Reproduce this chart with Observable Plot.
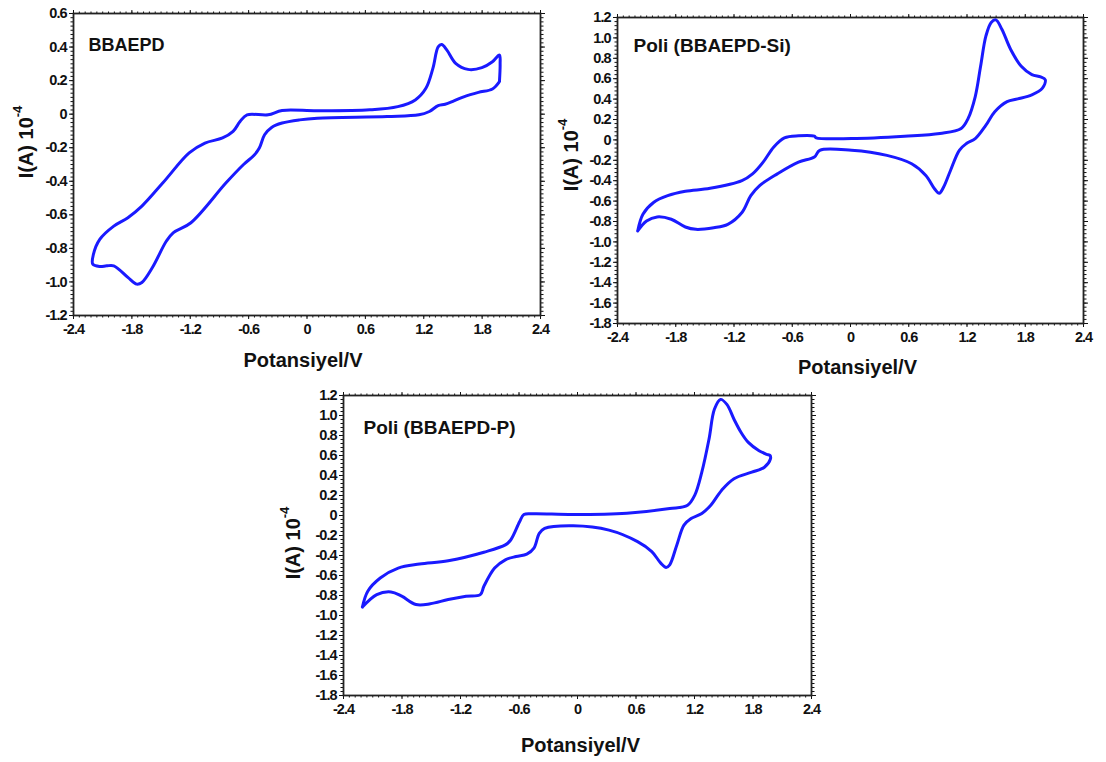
<!DOCTYPE html>
<html>
<head>
<meta charset="utf-8">
<script src="https://cdn.jsdelivr.net/npm/d3@7"></script>
<script src="https://cdn.jsdelivr.net/npm/@observablehq/plot@0.6"></script>
<style>
  body { margin: 0; background: #fff; }
  #root { position: relative; width: 1106px; height: 762px; background: #fff; overflow: hidden; }
  #root svg { position: absolute; overflow: visible; }
</style>
</head>
<body>
<div id="root"></div>
<script>
// ---- Data ----
const titles = ["BBAEPD", "Poli (BBAEPD-Si)", "Poli (BBAEPD-P)"];
const xLabel = "Potansiyel/V";
const xTicks = [-2.4, -1.8, -1.2, -0.6, 0, 0.6, 1.2, 1.8, 2.4];
const yTicks1 = [0.6, 0.4, 0.2, 0, -0.2, -0.4, -0.6, -0.8, -1.0, -1.2];
const yTicks23 = [1.2, 1.0, 0.8, 0.6, 0.4, 0.2, 0, -0.2, -0.4, -0.6, -0.8, -1.0, -1.2, -1.4, -1.6, -1.8];

// Panel 1: BBAEPD (closed CV loop, points in scan order)
const p1V = [1.978, 1.906, 1.762, 1.618, 1.51, 1.42, 1.348, 1.258, 1.15, 0.825, 0.105, -0.076, -0.256, -0.364, -0.436, -0.49, -0.544, -0.652, -0.832, -1.193, -1.373, -1.445, -1.589, -1.697, -1.751, -1.841, -1.986, -2.058, -2.13, -2.202, -2.195, -2.13, -1.986, -1.841, -1.697, -1.481, -1.211, -1.049, -0.868, -0.76, -0.688, -0.616, -0.4, -0.256, 0.105, 0.645, 0.933, 1.113, 1.222, 1.294, 1.348, 1.384, 1.438, 1.528, 1.654, 1.798, 1.906, 1.978, 1.985, 1.978];
const p1I = [0.194, 0.150, 0.130, 0.105, 0.079, 0.059, 0.051, 0.016, -0.004, -0.014, -0.024, -0.034, -0.053, -0.079, -0.123, -0.202, -0.245, -0.300, -0.409, -0.647, -0.706, -0.756, -0.914, -1.003, -1.013, -0.973, -0.904, -0.904, -0.908, -0.894, -0.835, -0.746, -0.667, -0.617, -0.548, -0.409, -0.231, -0.172, -0.142, -0.103, -0.044, -0.004, -0.004, 0.022, 0.020, 0.026, 0.045, 0.085, 0.154, 0.273, 0.401, 0.415, 0.382, 0.303, 0.267, 0.277, 0.312, 0.352, 0.300, 0.194];

// Panel 2: Poli (BBAEPD-Si)
const p2V = [-2.192, -2.138, -2.029, -1.883, -1.701, -1.446, -1.118, -1.009, -0.9, -0.79, -0.681, -0.536, -0.372, -0.353, 0.011, 0.557, 0.921, 1.14, 1.212, 1.285, 1.34, 1.395, 1.449, 1.497, 1.559, 1.65, 1.759, 1.868, 1.959, 2.006, 1.977, 1.868, 1.722, 1.613, 1.486, 1.395, 1.285, 1.194, 1.121, 1.03, 0.958, 0.914, 0.867, 0.776, 0.63, 0.375, 0.011, -0.317, -0.372, -0.536, -0.754, -0.936, -1.027, -1.118, -1.264, -1.409, -1.592, -1.701, -1.846, -1.992, -2.101, -2.192];
const p2I = [-0.893, -0.729, -0.613, -0.547, -0.504, -0.475, -0.399, -0.333, -0.218, -0.069, 0.020, 0.040, 0.036, 0.020, 0.013, 0.036, 0.063, 0.112, 0.211, 0.425, 0.722, 1.019, 1.151, 1.177, 1.085, 0.887, 0.722, 0.640, 0.617, 0.590, 0.508, 0.442, 0.402, 0.376, 0.277, 0.145, 0.013, -0.036, -0.102, -0.300, -0.465, -0.524, -0.481, -0.349, -0.234, -0.152, -0.102, -0.102, -0.168, -0.218, -0.333, -0.448, -0.547, -0.712, -0.828, -0.861, -0.877, -0.854, -0.778, -0.755, -0.795, -0.893];

// Panel 3: Poli (BBAEPD-P)
const p3V = [-2.206, -2.151, -2.023, -1.839, -1.62, -1.326, -0.96, -0.74, -0.685, -0.594, -0.55, -0.447, -0.044, 0.506, 0.946, 1.129, 1.202, 1.275, 1.349, 1.404, 1.466, 1.532, 1.605, 1.678, 1.752, 1.862, 1.940, 1.975, 1.979, 1.917, 1.788, 1.605, 1.477, 1.367, 1.275, 1.165, 1.092, 1.019, 0.946, 0.909, 0.854, 0.762, 0.616, 0.323, -0.044, -0.337, -0.392, -0.447, -0.52, -0.63, -0.74, -0.85, -0.96, -0.997, -1.143, -1.326, -1.51, -1.656, -1.803, -1.913, -2.059, -2.206];
const p3I = [-0.916, -0.757, -0.625, -0.526, -0.486, -0.453, -0.367, -0.294, -0.245, -0.063, 0.010, 0.017, 0.010, 0.023, 0.069, 0.103, 0.202, 0.433, 0.764, 1.062, 1.161, 1.111, 0.963, 0.830, 0.731, 0.648, 0.612, 0.600, 0.566, 0.483, 0.433, 0.367, 0.251, 0.103, 0.020, -0.030, -0.096, -0.294, -0.493, -0.519, -0.476, -0.361, -0.261, -0.146, -0.103, -0.129, -0.179, -0.327, -0.387, -0.410, -0.443, -0.526, -0.708, -0.791, -0.807, -0.840, -0.883, -0.890, -0.807, -0.764, -0.791, -0.916];

// ---- Drawing ----
const fmt = d => Math.abs(d) < 1e-9 ? "0" : d.toFixed(1);
const FONT = "'Liberation Sans', Arial, sans-serif";
const BLUE = "#1a1aff";
const INK = "#111";

function panel(cfg) {
  const data = cfg.v.map((v, i) => ({v, i: cfg.i[i]}));
  const yMin = d3.min(cfg.yTicks), yMax = d3.max(cfg.yTicks);
  const xMinor = d3.range(-2.4, 2.4001, 0.06);
  const yMinor = d3.range(yMin, yMax + 1e-6, cfg.yMinorStep);
  const hide = () => "";
  const svg = Plot.plot({
    width: cfg.width, height: cfg.height,
    marginLeft: cfg.ml, marginTop: cfg.mt, marginRight: cfg.mr, marginBottom: cfg.mb,
    x: {domain: [-2.4, 2.4]},
    y: {domain: [yMin, yMax]},
    style: {fontFamily: FONT, fontSize: "14px", fontWeight: "bold", color: INK, background: "transparent"},
    marks: [
      // minor ticks on all sides
      Plot.axisX(xMinor, {anchor: "bottom", tickSize: 2.5, tickFormat: hide, label: null, stroke: INK}),
      Plot.axisX(xMinor, {anchor: "top", tickSize: 2.5, tickFormat: hide, label: null, stroke: INK}),
      Plot.axisY(yMinor, {anchor: "left", tickSize: 2.5, tickFormat: hide, label: null, stroke: INK}),
      Plot.axisY(yMinor, {anchor: "right", tickSize: 2.5, tickFormat: hide, label: null, stroke: INK}),
      // major ticks + labels
      Plot.axisX(xTicks, {anchor: "bottom", tickSize: 4, tickPadding: 4, tickFormat: fmt, label: null, stroke: INK, fill: INK}),
      Plot.axisX(xTicks, {anchor: "top", tickSize: 4, tickFormat: hide, label: null, stroke: INK}),
      Plot.axisY(cfg.yTicks, {anchor: "left", tickSize: 4, tickPadding: 3, tickFormat: fmt, label: null, stroke: INK, fill: INK}),
      Plot.axisY(cfg.yTicks, {anchor: "right", tickSize: 4, tickFormat: hide, label: null, stroke: INK}),
      Plot.frame({stroke: "#222", strokeWidth: 1.8}),
      Plot.line(data, {x: "v", y: "i", stroke: BLUE, strokeWidth: 3, curve: "catmull-rom", strokeLinejoin: "round"}),
      Plot.text([cfg.title], {text: d => d, frameAnchor: "top-left", dx: cfg.tdx, dy: cfg.tdy, lineAnchor: "middle", textAnchor: "start", fontSize: cfg.tfs, fontWeight: "bold", fill: INK}),
      Plot.text([xLabel], {text: d => d, frameAnchor: "bottom", dx: cfg.ldx, dy: cfg.ldy, lineAnchor: "middle", fontSize: 20, fontWeight: "bold", fill: INK})
    ]
  });
  // heavier, condensed tick labels like the reference
  d3.select(svg).selectAll('g[aria-label="x-axis tick label"], g[aria-label="y-axis tick label"]')
    .style("font-size", "14.5px").style("font-weight", "bold").style("letter-spacing", "-1px");
  // y-axis label with superscript exponent
  const t = d3.select(svg).append("text")
    .attr("transform", `translate(${cfg.yx},${cfg.yy}) rotate(-90)`)
    .attr("text-anchor", "middle")
    .attr("dominant-baseline", "middle")
    .attr("font-family", FONT)
    .attr("font-weight", "bold")
    .attr("font-size", 20)
    .attr("fill", INK);
  t.append("tspan").text("I(A) 10");
  t.append("tspan").attr("font-size", 13).attr("dy", -9).text("-4");
  svg.style.left = cfg.left + "px";
  svg.style.top = cfg.top + "px";
  document.getElementById("root").appendChild(svg);
}

panel({title: titles[0], v: p1V, i: p1I, yTicks: yTicks1, yMinorStep: 0.025, tfs: 18,
  left: 0, top: 0, width: 550, height: 375, ml: 73, mt: 13, mr: 10, mb: 60,
  tdx: 15, tdy: 32, ldx: -4, ldy: 45, yx: 28, yy: 142});
panel({title: titles[1], v: p2V, i: p2I, yTicks: yTicks23, yMinorStep: 0.04, tfs: 19,
  left: 550, top: 0, width: 546, height: 380, ml: 67, mt: 17, mr: 13, mb: 57,
  tdx: 16, tdy: 28, ldx: 7, ldy: 44, yx: 23, yy: 155});
panel({title: titles[2], v: p3V, i: p3I, yTicks: yTicks23, yMinorStep: 0.04, tfs: 19,
  left: 270, top: 380, width: 551, height: 377, ml: 73, mt: 15, mr: 10, mb: 62,
  tdx: 20, tdy: 32, ldx: 3, ldy: 50, yx: 25, yy: 163});
</script>
</body>
</html>
